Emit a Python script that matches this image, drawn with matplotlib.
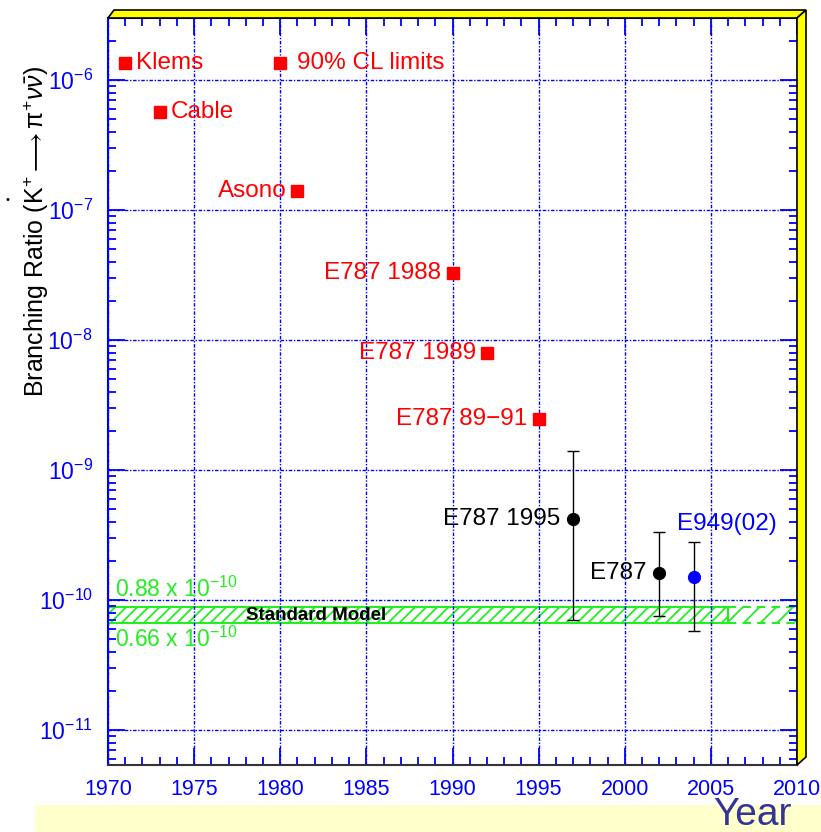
import matplotlib
matplotlib.use("Agg")
import matplotlib.pyplot as plt
from matplotlib.patches import Polygon, Rectangle
from matplotlib.ticker import FixedLocator, LogFormatterMathtext, NullFormatter

plt.rcParams["font.family"] = ["Liberation Sans", "DejaVu Sans"]
plt.rcParams["mathtext.fontset"] = "custom"
plt.rcParams["mathtext.rm"] = "Liberation Sans"
plt.rcParams["mathtext.it"] = "Liberation Sans:italic"
plt.rcParams["hatch.linewidth"] = 1.3

W, H = 821, 832
BLUE = "#0000ff"
RED = "#ff0000"
GREEN = "#22ee22"
plt.rcParams["hatch.color"] = GREEN

# 90% CL upper limits
limit_years = [1971, 1973, 1981, 1990, 1992, 1995]
limit_values = [1.35e-6, 5.7e-7, 1.4e-7, 3.3e-8, 7.9e-9, 2.45e-9]
limit_labels = ["Klems", "Cable", "Asono", "E787 1988", "E787 1989", "E787 89\u221291"]
limit_side = ["right", "right", "left", "left", "left", "left"]

# legend entry for limits
legend_year = 1980
legend_value = 1.35e-6

# measured events
meas_years = [1997, 2002, 2004]
meas_values = [4.2e-10, 1.62e-10, 1.50e-10]
meas_hi = [13.9e-10, 3.32e-10, 2.77e-10]
meas_lo = [0.70e-10, 0.75e-10, 0.58e-10]
meas_labels = ["E787 1995", "E787", "E949(02)"]
meas_colors = ["black", "black", BLUE]

# standard model band
sm_lo, sm_hi = 0.66e-10, 0.88e-10
sm_end = 2006

x_ticks = [1970, 1975, 1980, 1985, 1990, 1995, 2000, 2005, 2010]
y_ticks = [1e-11, 1e-10, 1e-9, 1e-8, 1e-7, 1e-6]


def px(x, y):
    return (x / W, 1 - y / H)


fig = plt.figure(figsize=(W / 100, H / 100), dpi=100)
ax = fig.add_axes([108 / W, 1 - 765 / H, (797 - 108) / W, (765 - 18) / H])

ax.set_yscale("log")
ax.set_xlim(1970, 2010)
ax.set_ylim(5.38e-12, 3.0e-6)

ax.set_xticks(x_ticks)
ax.xaxis.set_minor_locator(FixedLocator(range(1970, 2011)))
ax.yaxis.set_major_locator(FixedLocator(y_ticks))
y_minor = [m * d for d in [1e-12, 1e-11, 1e-10, 1e-9, 1e-8, 1e-7, 1e-6] for m in range(2, 10)]
ax.yaxis.set_minor_locator(FixedLocator([v for v in y_minor if 5.38e-12 < v < 3.0e-6]))
ax.yaxis.set_major_formatter(LogFormatterMathtext())
ax.yaxis.set_minor_formatter(NullFormatter())
ax.grid(True, which="major", color=BLUE, linestyle=(0, (2.5, 1.2, 1, 1.2)), linewidth=1.0)

ax.tick_params(which="both", direction="in", colors=BLUE, top=True, right=True,
               labelcolor=BLUE, width=1.3)
ax.tick_params(which="major", length=12)
ax.tick_params(which="minor", length=6)
ax.tick_params(axis="x", which="major", labelsize=15.5, pad=10)
ax.tick_params(axis="y", which="major", labelsize=16.5, pad=11)
for s in ["left", "top"]:
    ax.spines[s].set_color(BLUE)
    ax.spines[s].set_linewidth(1.5)
ax.spines["bottom"].set_color("#333333")
ax.spines["bottom"].set_linewidth(1.5)
ax.spines["right"].set_color(BLUE)

# standard model band
ax.add_patch(Rectangle((1970, sm_lo), sm_end - 1970, sm_hi - sm_lo, facecolor="none",
                       edgecolor=GREEN, hatch="///", linewidth=1.5))
ax.add_patch(Rectangle((sm_end, sm_lo), 2010 - sm_end, sm_hi - sm_lo, facecolor="none",
                       edgecolor=GREEN, hatch="//", linewidth=1.5, linestyle=(0, (4, 3))))
ax.text(1978.0, (sm_lo * sm_hi) ** 0.5, "Standard Model", fontsize=13.5,
        fontweight="bold", va="center", ha="left", color="black")
ax.annotate(r"0.88 x 10$^{-10}$", (1970, sm_hi), xytext=(5, 4), textcoords="offset points",
            color=GREEN, fontsize=16.5, va="bottom")
ax.annotate(r"0.66 x 10$^{-10}$", (1970, sm_lo), xytext=(5, -2), textcoords="offset points",
            color=GREEN, fontsize=16.5, va="top")

# upper limits
ax.plot(limit_years, limit_values, "s", color=RED, markersize=8, linestyle="none")
for yr, v, lab, side in zip(limit_years, limit_values, limit_labels, limit_side):
    off = 8 if side == "right" else -8
    ax.annotate(lab, (yr, v), xytext=(off, 0), textcoords="offset points",
                ha="left" if side == "right" else "right", va="center",
                color=RED, fontsize=17.5)
ax.plot([legend_year], [legend_value], "s", color=RED, markersize=8)
ax.annotate("90% CL limits", (legend_year, legend_value), xytext=(12, 0),
            textcoords="offset points", ha="left", va="center", color=RED, fontsize=17.5)

# measurements
for yr, v, hi, lo, lab, c in zip(meas_years, meas_values, meas_hi, meas_lo,
                                  meas_labels, meas_colors):
    ax.errorbar([yr], [v], yerr=[[v - lo], [hi - v]], fmt="o", color=c, ecolor="black",
                elinewidth=1.0, capsize=4, capthick=1.0, markersize=8.5)
for yr, v, lab in zip(meas_years[:2], meas_values[:2], meas_labels[:2]):
    ax.annotate(lab, (yr, v), xytext=(-9, 0), textcoords="offset points",
                ha="right", va="center", color="black", fontsize=17.5)
ax.annotate(meas_labels[2], (meas_years[2], meas_values[2]), xytext=(-12, 38),
            textcoords="offset points", ha="left", va="center", color=BLUE, fontsize=17.5)

# yellow 3D frame
fig.patches.append(Polygon([px(108, 18), px(797, 18), px(806, 10), px(114, 10)],
                           closed=True, facecolor="#ffff00", edgecolor="black",
                           linewidth=1.2, transform=fig.transFigure, zorder=5))
fig.patches.append(Polygon([px(797, 18), px(806, 10), px(806, 757), px(797, 765)],
                           closed=True, facecolor="#ffff00", edgecolor="black",
                           linewidth=1.2, transform=fig.transFigure, zorder=5))

# bottom strip with axis title
x0, y0 = px(35, 832)
fig.patches.append(Rectangle((x0, y0), (W - 35) / W, 27 / H, facecolor="#ffffcc",
                             edgecolor="none", transform=fig.transFigure, zorder=0))
fig.text(*px(752, 815), "Year", color="#333399", fontsize=28, ha="center", va="center")

fig.text(*px(36, 232),
         r"Branching Ratio $(\mathrm{K}^{+}\longrightarrow\mathrm{\pi}^{+}\nu\bar{\nu})$",
         rotation=90, ha="center", va="center", fontsize=18, color="black")
fig.text(*px(8, 200), "\u2022", fontsize=8, ha="center", va="center", color="black")

fig.savefig("out.png", dpi=100)
